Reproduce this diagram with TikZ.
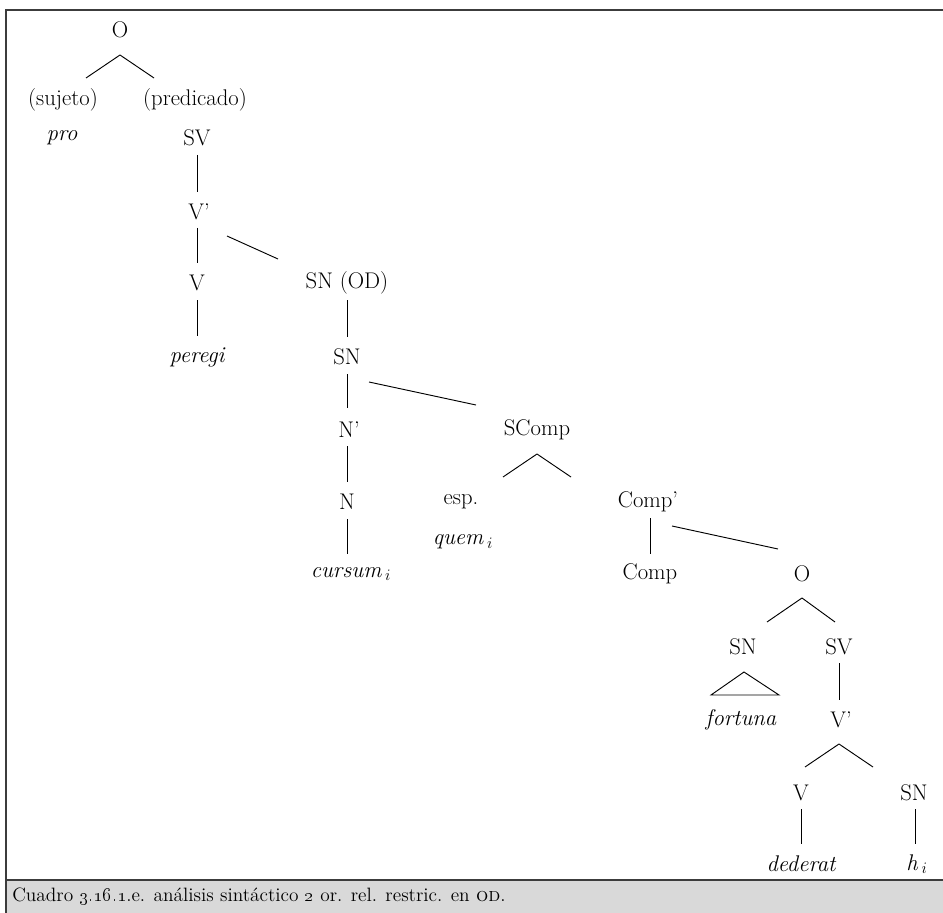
\documentclass[tikz,border=0pt]{standalone}
\usetikzlibrary{calc}
\definecolor{framegray}{RGB}{60,60,60}
\definecolor{capgray}{RGB}{217,217,217}
\tikzset{
  lbl/.style={inner sep=0pt, font=\fontsize{17}{20}\selectfont},
  word/.style={inner sep=0pt, font=\fontsize{17}{20}\selectfont\itshape},
  branch/.style={line width=0.7pt},
}
\begin{document}
\begin{tikzpicture}[x=0.75pt, y=-0.75pt]
\useasboundingbox (0,0) rectangle (943,913);
% frame and caption band
\fill [capgray] (6,880) rectangle (943,913);
\draw [framegray, line width=1.5pt] (943,10) -- (6,10) -- (6,913);
\draw [framegray, line width=1.2pt] (6,880) -- (943,880);
\node [lbl, anchor=west, font=\fontsize{14.5}{17}\selectfont] (cap) at (12,897)
  {Cuadro \oldstylenums{3.16.1}.e. análisis sintáctico \oldstylenums{2} or. rel. restric. en \textsc{od}.};

% main clause
\node [lbl] (O) at (120,30) {O};
\node [lbl] (suj) at (63,100) {(sujeto)};
\node [lbl] (pred) at (195,100) {(predicado)};
\node [word] (pro) at (62,138) {pro};
\node [lbl] (SV) at (197,138) {SV};
\node [lbl] (Vbar) at (199,212) {V'};
\node [lbl] (V) at (197,283) {V};
\node [word] (peregi) at (197,357) {peregi};
\node [lbl] (SNod) at (347,283) {SN (OD)};
\node [lbl] (SN) at (347,357) {SN};
\node [lbl] (Nbar) at (349,430) {N'};
\node [lbl] (N) at (347,502) {N};
\node [word] (cursum) at (351,574) {cursum\,$_{i}$};

% relative clause
\node [lbl] (SComp) at (537,430) {SComp};
\node [lbl] (esp) at (461,502) {esp.};
\node [word] (quem) at (463,542) {quem\,$_{i}$};
\node [lbl] (Compbar) at (648,502) {Comp'};
\node [lbl] (Comp) at (650,574) {Comp};
\node [lbl] (Orel) at (802,574) {O};
\node [lbl] (SNrel) at (743,647) {SN};
\node [word] (fortuna) at (741,720) {fortuna};
\node [lbl] (SVrel) at (839,647) {SV};
\node [lbl] (Vbarrel) at (841,720) {V'};
\node [lbl] (Vrel) at (801,793) {V};
\node [word] (dederat) at (801,864) {dederat};
\node [lbl] (SNobj) at (914,793) {SN};
\node [word] (h) at (917,864) {h\,$_{i}$};

% branches
\draw [branch] ($(O)+(0,25)$) -- ($(suj)+(23,-22)$);
\draw [branch] ($(O)+(0,25)$) -- ($(pred)+(-41,-22)$);
\draw [branch] ($(SV)+(0,17)$) -- ($(SV|-Vbar)+(0,-20)$);
\draw [branch] ($(V|-Vbar)+(0,16)$) -- ($(V)+(0,-20)$);
\draw [branch] ($(Vbar)+(28,24)$) -- ($(SNod)+(-69,-24)$);
\draw [branch] ($(V)+(0,17)$) -- ($(V|-peregi)+(0,-21)$);
\draw [branch] ($(SNod)+(0,17)$) -- ($(SNod|-SN)+(0,-20)$);
\draw [branch] ($(SN)+(0,17)$) -- ($(SN|-Nbar)+(0,-22)$);
\draw [branch] ($(SN)+(22,25)$) -- ($(SComp)+(-61,-25)$);
\draw [branch] ($(N|-Nbar)+(0,16)$) -- ($(N)+(0,-20)$);
\draw [branch] ($(N)+(0,17)$) -- ($(N|-cursum)+(0,-20)$);
\draw [branch] ($(SComp)+(0,24)$) -- ($(esp)+(42,-25)$);
\draw [branch] ($(SComp)+(0,24)$) -- ($(Compbar)+(-77,-25)$);
\draw [branch] ($(Comp|-Compbar)+(0,16)$) -- ($(Comp)+(0,-20)$);
\draw [branch] ($(Compbar)+(24,24)$) -- ($(Orel)+(-24,-25)$);
\draw [branch] ($(Orel)+(0,24)$) -- ($(SNrel)+(24,-25)$);
\draw [branch] ($(Orel)+(0,24)$) -- ($(SVrel)+(-4,-25)$);
\draw [branch] ($(SNrel)+(1,25)$) -- ($(fortuna)+(-30,-25)$) -- ($(fortuna)+(38,-25)$) -- cycle;
\draw [branch] ($(SVrel)+(0,16)$) -- ($(SVrel|-Vbarrel)+(0,-20)$);
\draw [branch] ($(SVrel|-Vbarrel)+(0,24)$) -- ($(Vrel)+(4,-26)$);
\draw [branch] ($(SVrel|-Vbarrel)+(0,24)$) -- ($(SNobj)+(-41,-26)$);
\draw [branch] ($(Vrel)+(0,16)$) -- ($(Vrel|-dederat)+(0,-20)$);
\draw [branch] ($(SNobj)+(1,16)$) -- ($(SNobj|-h)+(1,-20)$);
\end{tikzpicture}
\end{document}
